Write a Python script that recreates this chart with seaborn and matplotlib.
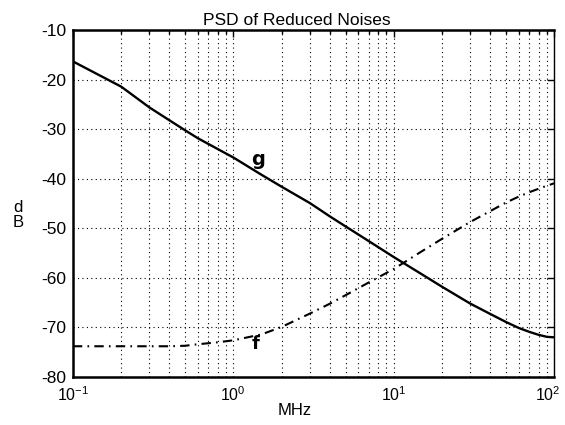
import numpy as np
import pandas as pd
import matplotlib
matplotlib.use("Agg")
import matplotlib.pyplot as plt
import matplotlib.transforms as mtransforms
import seaborn as sns
from matplotlib.ticker import LogLocator, NullFormatter

# frequencies (MHz) and read-off PSD levels (dB)
freq_mhz = [0.1, 0.2, 0.3, 0.4, 0.5, 0.6, 0.8, 1, 1.5, 2, 3, 4, 5, 7, 10,
            15, 20, 30, 40, 50, 60, 70, 80, 90, 100]
g_db = [-16.3, -21.4, -25.6, -28.2, -30.2, -31.8, -34.0, -35.7, -39.2, -41.6,
        -44.9, -47.6, -49.6, -52.6, -55.8, -59.3, -61.8, -65.2, -67.3, -68.9,
        -70.1, -70.9, -71.5, -71.9, -72.0]
f_db = [-73.8, -73.8, -73.8, -73.8, -73.7, -73.4, -73.0, -72.6, -71.4, -69.9,
        -67.2, -65.2, -63.5, -60.9, -58.2, -54.6, -52.1, -48.7, -46.5, -44.8,
        -43.6, -42.7, -42.0, -41.4, -40.9]
yticks = [-80, -70, -60, -50, -40, -30, -20, -10]
xticks = [0.1, 1, 10, 100]
xtick_labels = ["$10^{-1}$", "$10^{0}$", "$10^{1}$", "$10^{2}$"]

sns.set_style("white")
narrow = ["DejaVu Sans Condensed", "Liberation Sans", "DejaVu Sans"]
plt.rcParams["font.family"] = narrow
plt.rcParams["axes.unicode_minus"] = False
plt.rcParams["text.color"] = "black"
plt.rcParams["axes.labelcolor"] = "black"
plt.rcParams["mathtext.fontset"] = "custom"
plt.rcParams["mathtext.rm"] = "Liberation Sans"
plt.rcParams["mathtext.it"] = "Liberation Sans"

fig = plt.figure(figsize=(5.65, 4.25), dpi=100)
ax = fig.add_axes([0.129, 0.113, 0.852, 0.816])

df = pd.DataFrame({"MHz": freq_mhz, "g": g_db, "f": f_db})
sns.lineplot(data=df, x="MHz", y="g", ax=ax, color="black", lw=1.7)
sns.lineplot(data=df, x="MHz", y="f", ax=ax, color="black", lw=1.5,
             linestyle=(0, (4.5, 2.5, 0.8, 2.5)))

ax.set_xscale("log")
ax.set_xlim(0.1, 100)
ax.set_ylim(-80, -10)
ax.set_yticks(yticks)
ax.set_xticks(xticks, xtick_labels)
ax.xaxis.set_minor_locator(LogLocator(base=10, subs=np.arange(2, 10)))
ax.xaxis.set_minor_formatter(NullFormatter())

ax.grid(which="both", axis="x", linestyle=(0, (1, 3)), color="black", lw=0.8)
ax.grid(which="major", axis="y", linestyle=(0, (1, 3)), color="black", lw=0.8)

ax.tick_params(axis="both", which="both", direction="in", colors="black",
               top=True, right=True)
ax.tick_params(axis="y", labelsize=12.5)
ax.tick_params(axis="x", labelsize=11.5)
ax.tick_params(axis="both", which="major", length=5, width=1)
ax.tick_params(axis="x", which="minor", length=3, width=1)
ax.tick_params(axis="y", which="major", pad=5)
ax.tick_params(axis="x", which="major", pad=6)

# nudge the last x label inward so it stays inside the figure
last = ax.get_xticklabels()[-1]
last.set_transform(last.get_transform() +
                   mtransforms.ScaledTranslation(-5 / 72, 0, fig.dpi_scale_trans))

for s in ["left", "bottom", "top"]:
    ax.spines[s].set_linewidth(1.8)
    ax.spines[s].set_color("black")
ax.spines["right"].set_linewidth(1.0)
ax.spines["right"].set_color("black")

ax.set_title("PSD of Reduced Noises", fontsize=12.5, x=0.465, pad=4)
ax.set_xlabel("MHz", fontsize=12)
ax.xaxis.set_label_coords(0.46, -0.075)
ax.set_ylabel("d\nB", fontsize=12, rotation=0, va="center", linespacing=1.0)
ax.yaxis.set_label_coords(-0.114, 0.467)

ax.text(1.42, -38.0, "g", fontsize=14, fontweight="bold", family="DejaVu Sans",
        ha="center", va="bottom")
ax.text(1.37, -73.3, "f", fontsize=13, fontweight="bold", family="DejaVu Sans",
        ha="center", va="center")

fig.savefig("out.png", dpi=100)
